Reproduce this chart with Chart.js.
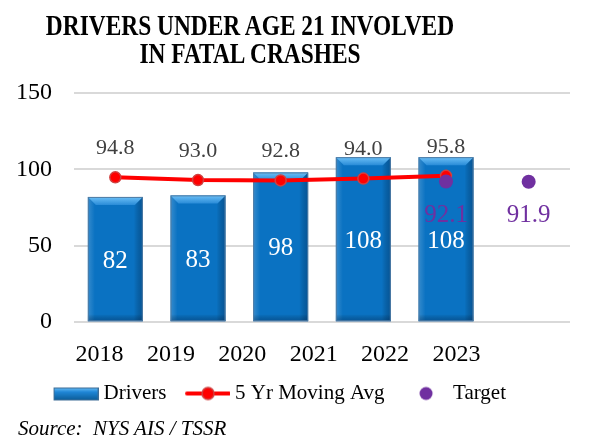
<!DOCTYPE html>
<html>
<head>
<meta charset="utf-8">
<script src="https://cdn.jsdelivr.net/npm/chart.js@4.4.0/dist/chart.umd.min.js"></script>
<style>
  html, body { margin: 0; padding: 0; background: #fff; }
  #wrap { position: relative; width: 605px; height: 438px; overflow: hidden; }
  #chart { position: absolute; left: 0; top: 0; }
  #title {
    position: absolute; left: -100px; top: 11px; width: 700px;
    text-align: center; font-family: 'Liberation Serif', serif;
    font-weight: bold; font-size: 30px; line-height: 28px; color: #000;
  }
  #title span { display: block; white-space: nowrap; transform: scaleX(0.78); transform-origin: center; }
  #source {
    position: absolute; left: 18px; top: 418px;
    font-family: 'Liberation Serif', serif; font-style: italic;
    font-size: 21px; line-height: 21px; color: #000; white-space: pre;
  }
</style>
</head>
<body>
<div id="wrap">
  <canvas id="chart" width="605" height="438"></canvas>
  <div id="title"><span>DRIVERS UNDER AGE 21 INVOLVED</span><span>IN FATAL CRASHES</span></div>
  <div id="source">Source:  NYS AIS / TSSR</div>
</div>
<script>
const years = ['2018', '2019', '2020', '2021', '2022', '2023'];
const drivers = [82, 83, 98, 108, 108, null];
const movingAvg = [94.8, 93.0, 92.8, 94.0, 95.8, null];
const target = [null, null, null, null, 92.1, 91.9];
const yMin = 0, yMax = 150, yStep = 50;

// the year labels in the picture sit on their own spacing, not under the bars
const labelAxisMin = -0.357;
const labelAxisMax = 6.59;

const serif = 'Liberation Serif';

function makeSwatch(kind) {
    // 56 wide: the swatch sits on the right 45px, the left part stays clear
    const c = document.createElement('canvas');
    c.width = 56;
    c.height = 16;
    const g = c.getContext('2d');
    const x0 = 11;
    if (kind === 'bar') {
        const grad = g.createLinearGradient(0, 2, 0, 15);
        grad.addColorStop(0, '#6CC0F7');
        grad.addColorStop(0.35, '#1F86D6');
        grad.addColorStop(1, '#0B5A94');
        g.fillStyle = grad;
        g.fillRect(x0 + 0.5, 2.5, 44, 12);
        g.strokeStyle = '#3E6D96';
        g.lineWidth = 1;
        g.strokeRect(x0 + 0.5, 2.5, 44, 12);
    } else if (kind === 'line') {
        g.strokeStyle = '#FF0000';
        g.lineWidth = 4;
        g.lineCap = 'round';
        g.beginPath();
        g.moveTo(x0 + 2, 8);
        g.lineTo(x0 + 44, 8);
        g.stroke();
        g.beginPath();
        g.arc(x0 + 23, 8, 6, 0, Math.PI * 2);
        g.fillStyle = '#FF0000';
        g.fill();
        g.strokeStyle = '#D04040';
        g.lineWidth = 1.5;
        g.stroke();
    } else {
        g.beginPath();
        g.arc(x0 + 23, 8, 6.5, 0, Math.PI * 2);
        g.fillStyle = '#7030A0';
        g.fill();
    }
    return c;
}

const swatches = [makeSwatch('bar'), makeSwatch('line'), makeSwatch('dot')];

// bevel look of the bars, drawn over each bar right after the bar dataset
const bevelBars = {
    id: 'bevelBars',
    afterDatasetDraw(chart, args) {
        if (args.index !== 0) return;
        const ctx = chart.ctx;
        const values = chart.data.datasets[0].data;
        args.meta.data.forEach((el, j) => {
            if (values[j] == null) return;
            const L = el.x - el.width / 2, R = el.x + el.width / 2;
            const T = el.y, B = el.base;
            const b = 8;
            ctx.save();
            let g = ctx.createLinearGradient(L, 0, L + 7, 0);
            g.addColorStop(0, 'rgba(255,255,255,0.18)');
            g.addColorStop(1, 'rgba(255,255,255,0)');
            ctx.fillStyle = g;
            ctx.fillRect(L, T, 7, B - T);
            g = ctx.createLinearGradient(R - 9, 0, R, 0);
            g.addColorStop(0, 'rgba(0,0,0,0)');
            g.addColorStop(1, 'rgba(0,30,70,0.35)');
            ctx.fillStyle = g;
            ctx.fillRect(R - 9, T, 9, B - T);
            g = ctx.createLinearGradient(0, B - 7, 0, B);
            g.addColorStop(0, 'rgba(0,0,0,0)');
            g.addColorStop(1, 'rgba(0,30,70,0.35)');
            ctx.fillStyle = g;
            ctx.fillRect(L, B - 7, R - L, 7);
            g = ctx.createLinearGradient(0, T, 0, T + b);
            g.addColorStop(0, '#6CC0F7');
            g.addColorStop(1, '#2A8CD8');
            ctx.fillStyle = g;
            ctx.beginPath();
            ctx.moveTo(L, T);
            ctx.lineTo(R, T);
            ctx.lineTo(R - b, T + b);
            ctx.lineTo(L + b, T + b);
            ctx.closePath();
            ctx.fill();
            ctx.strokeStyle = '#4F7BA3';
            ctx.lineWidth = 1;
            ctx.strokeRect(L + 0.5, T + 0.5, R - L - 1, B - T - 1);
            ctx.restore();
        });
    }
};

const valueLabels = {
    id: 'valueLabels',
    afterDatasetsDraw(chart) {
        const ctx = chart.ctx;
        ctx.save();
        ctx.textAlign = 'center';
        ctx.textBaseline = 'middle';
        chart.data.datasets.forEach((ds, i) => {
            const meta = chart.getDatasetMeta(i);
            meta.data.forEach((el, j) => {
                const v = ds.data[j];
                if (v == null) return;
                if (i === 0) {
                    ctx.font = '25px "' + serif + '"';
                    ctx.fillStyle = '#FFFFFF';
                    ctx.fillText(String(v), el.x, (el.y + el.base) / 2 + 2);
                } else if (i === 1) {
                    ctx.font = '22px "' + serif + '"';
                    ctx.fillStyle = '#404040';
                    ctx.fillText(v.toFixed(1), el.x, el.y - 29);
                } else {
                    ctx.font = '25px "' + serif + '"';
                    ctx.fillStyle = '#7030A0';
                    ctx.fillText(v.toFixed(1), el.x, el.y + 34);
                }
            });
        });
        ctx.restore();
    }
};

const ctx = document.getElementById('chart').getContext('2d');
new Chart(ctx, {
    type: 'bar',
    data: {
        labels: years,
        datasets: [
            {
                label: 'Drivers',
                data: drivers,
                backgroundColor: '#0A72C2',
                borderWidth: 0,
                barPercentage: 0.665,
                categoryPercentage: 1,
                order: 2
            },
            {
                type: 'line',
                label: '5 Yr Moving Avg',
                data: movingAvg,
                borderColor: '#FF0000',
                borderWidth: 4,
                pointRadius: 5.5,
                pointBackgroundColor: '#FF0000',
                pointBorderColor: '#D04040',
                pointBorderWidth: 1.5,
                order: 1
            },
            {
                type: 'line',
                label: 'Target',
                data: target,
                showLine: false,
                pointRadius: 7,
                pointBackgroundColor: '#7030A0',
                pointBorderColor: '#7030A0',
                pointBorderWidth: 0,
                order: 0
            }
        ]
    },
    options: {
        responsive: false,
        animation: false,
        devicePixelRatio: 1,
        layout: { padding: { top: 93, left: -16, right: 35, bottom: 24 } },
        scales: {
            x: { type: 'category', display: false, offset: true },
            xl: {
                type: 'linear',
                position: 'bottom',
                offset: false,
                bounds: 'data',
                min: labelAxisMin,
                max: labelAxisMax,
                afterBuildTicks: s => { s.ticks = years.map((y, i) => ({ value: i })); },
                afterFit: s => {
                    s.height -= 17;
                    s.paddingLeft = 0;
                    s.paddingRight = 0;
                },
                ticks: {
                    callback: v => years[v],
                    font: { family: serif, size: 24 },
                    color: '#000',
                    padding: 18,
                    maxRotation: 0,
                    autoSkip: false
                },
                grid: { display: false, drawTicks: false, offset: false },
                border: { display: false }
            },
            y: {
                min: yMin,
                max: yMax,
                afterFit: s => { s.width = 90; },
                ticks: {
                    stepSize: yStep,
                    font: { family: serif, size: 24 },
                    color: '#000',
                    padding: 22
                },
                grid: { color: '#D9D9D9', lineWidth: 2, drawTicks: false },
                border: { display: false }
            }
        },
        plugins: {
            title: { display: false },
            tooltip: { enabled: false },
            legend: {
                position: 'bottom',
                labels: {
                    font: { family: serif, size: 21 },
                    color: '#000',
                    usePointStyle: true,
                    pointStyleWidth: 45,
                    boxHeight: 14,
                    padding: 13,
                    sort: (a, b) => a.datasetIndex - b.datasetIndex,
                    generateLabels: chart => {
                        const items = Chart.defaults.plugins.legend.labels.generateLabels(chart);
                        items.forEach(it => { it.pointStyle = swatches[it.datasetIndex]; });
                        return items;
                    }
                }
            }
        }
    },
    plugins: [bevelBars, valueLabels]
});
</script>
</body>
</html>
